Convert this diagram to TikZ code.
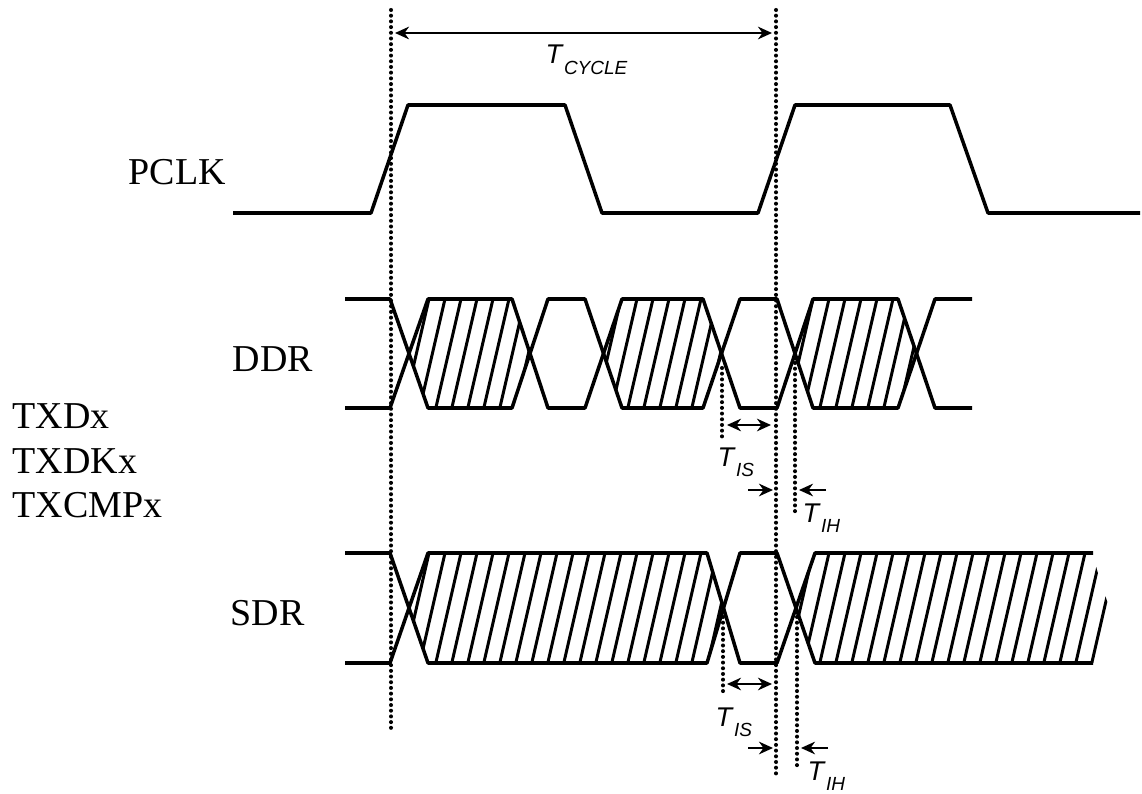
\documentclass[tikz,border=0pt]{standalone}
\usepackage{fontspec}
\setmainfont{Liberation Serif}
\setsansfont{Liberation Sans}
\usetikzlibrary{arrows.meta}
\usetikzlibrary{positioning}

\newcommand{\Tsub}[1]{T\kern0.5pt\raisebox{-3.1pt}{\fontsize{5.4}{6}\selectfont #1}}

\begin{document}
\begin{tikzpicture}[x=0.01cm, y=-0.01cm,
	signal/.style={line width=1pt, line join=round},
	hatch/.style={line width=0.85pt},
	guide/.style={line width=1.15pt, line cap=round, dash pattern=on 0pt off 1.62pt},
	dim/.style={line width=0.5pt, {Stealth[length=4pt,width=3.6pt]}-{Stealth[length=4pt,width=3.6pt]}},
	tick/.style={line width=0.5pt, -{Stealth[length=4pt,width=3.6pt]}},
	lbl/.style={inner sep=0pt, font=\fontsize{10.8}{13}\selectfont},
	tlbl/.style={inner sep=0pt, font=\fontsize{7.7}{9}\sffamily\itshape}]
	
	\useasboundingbox (0,0) rectangle (1142,794);
	
	% labels
	\node[lbl, anchor=base west] (pclk) at (128,185) {PCLK};
	\node[lbl, anchor=base west] (ddr) at (232,371) {DDR};
	\node[lbl, anchor=base west] (sdr) at (230,625) {SDR};
	\node[lbl, anchor=base west] (txd) at (12,428) {TXDx};
	\node[lbl, anchor=base west] (txdk) at (12,473) {TXDKx};
	\node[lbl, anchor=base west] (txcmp) at (12,518) {TXCMPx};
	
	\node[tlbl, anchor=base west] (tcycle) at (545,64) {\Tsub{CYCLE}};
	\node[tlbl, anchor=base west] (tis1) at (717,466) {\Tsub{IS}};
	\node[tlbl, anchor=base west] (tih1) at (802,522) {\Tsub{IH}};
	\node[tlbl, anchor=base west] (tis2) at (715,726) {\Tsub{IS}};
	\node[tlbl, anchor=base west] (tih2) at (807,780) {\Tsub{IH}};
	
	% PCLK
	\draw[signal] (233,213) -- (371,213) -- (408,105) -- (565,105) -- (602,213)
		-- (758,213) -- (795,105) -- (950,105) -- (988,213) -- (1140,213);
	
	% hatching for DDR
	\foreach \a/\b in {409/530, 603.5/721.5, 795/916.5} {
		\begin{scope}
			\clip (\a,353.5) -- (\a+19,299) -- (\b-19,299) -- (\b,353.5) -- (\b-19,408) -- (\a+19,408) -- cycle;
			\foreach \x in {397,413,...,1133} \draw[hatch] (\x+2.3,289) -- (\x-27.5,418);
		\end{scope}
	}
	% DDR
	\draw[signal] (345,299) -- (390,299) -- (428,408) -- (512,408) -- (548,299) -- (585,299)
		-- (622,408) -- (703,408) -- (740,299) -- (777,299) -- (813,408) -- (898,408)
		-- (935,299) -- (972,299);
	\draw[signal] (345,408) -- (390,408) -- (428,299) -- (512,299) -- (548,408) -- (585,408)
		-- (622,299) -- (703,299) -- (740,408) -- (777,408) -- (813,299) -- (898,299)
		-- (935,408) -- (972,408);
	
	% hatching for SDR
	\begin{scope}
		\clip (409,608) -- (428,553) -- (707,553) -- (723.5,608) -- (707,663) -- (428,663) -- cycle;
		\foreach \x in {397,413,...,1133} \draw[hatch] (\x+2.3,543) -- (\x-27.5,673);
	\end{scope}
	\begin{scope}
		\clip (796,608) -- (815,553) -- (1093,553) -- (1097,570) -- (1108,604) -- (1100,663) -- (815,663) -- cycle;
		\foreach \x in {397,413,...,1133} \draw[hatch] (\x+2.3,543) -- (\x-27.5,673);
	\end{scope}
	% SDR
	\draw[signal] (345,553) -- (390,553) -- (428,663) -- (707,663) -- (740,553) -- (777,553)
		-- (815,663) -- (1093,663);
	\draw[signal] (345,663) -- (390,663) -- (428,553) -- (707,553) -- (740,663) -- (777,663)
		-- (815,553) -- (1093,553);
	
	% dotted guides
	\coordinate (g0top) at (391,10);
	\coordinate (g0bot) at (391,730);
	\coordinate (g1top) at (776,10);
	\coordinate (g1bot) at (776,775);
	\draw[guide] (g0top) -- (g0bot);
	\draw[guide] (g1top) -- (g1bot);
	
	\coordinate (s1top) at (722,368);
	\coordinate (s1bot) at (722,440);
	\coordinate (h1top) at (795,363);
	\coordinate (h1bot) at (795,515);
	\draw[guide] (s1top) -- (s1bot);
	\draw[guide] (h1top) -- (h1bot);
	
	\coordinate (s2top) at (723,617);
	\coordinate (s2bot) at (723,695);
	\coordinate (h2top) at (797,617);
	\coordinate (h2bot) at (797,770);
	\draw[guide] (s2top) -- (s2bot);
	\draw[guide] (h2top) -- (h2bot);
	
	% T_CYCLE
	\coordinate (cyc0) at (395,33);
	\coordinate (cyc1) at (772,33);
	\draw[dim] (cyc0) -- (cyc1);
	
	% T_IS and T_IH for DDR
	\coordinate (is1a) at (727,425);
	\coordinate (is1b) at (771,425);
	\draw[dim] (is1a) -- (is1b);
	\coordinate (ih1a) at (748,490);
	\coordinate (ih1b) at (773,490);
	\coordinate (ih1c) at (826,490);
	\coordinate (ih1d) at (799,490);
	\draw[tick] (ih1a) -- (ih1b);
	\draw[tick] (ih1c) -- (ih1d);
	
	% T_IS and T_IH for SDR
	\coordinate (is2a) at (727,684);
	\coordinate (is2b) at (772,684);
	\draw[dim] (is2a) -- (is2b);
	\coordinate (ih2a) at (748,748);
	\coordinate (ih2b) at (773,748);
	\coordinate (ih2c) at (828,748);
	\coordinate (ih2d) at (801,748);
	\draw[tick] (ih2a) -- (ih2b);
	\draw[tick] (ih2c) -- (ih2d);
\end{tikzpicture}
\end{document}
